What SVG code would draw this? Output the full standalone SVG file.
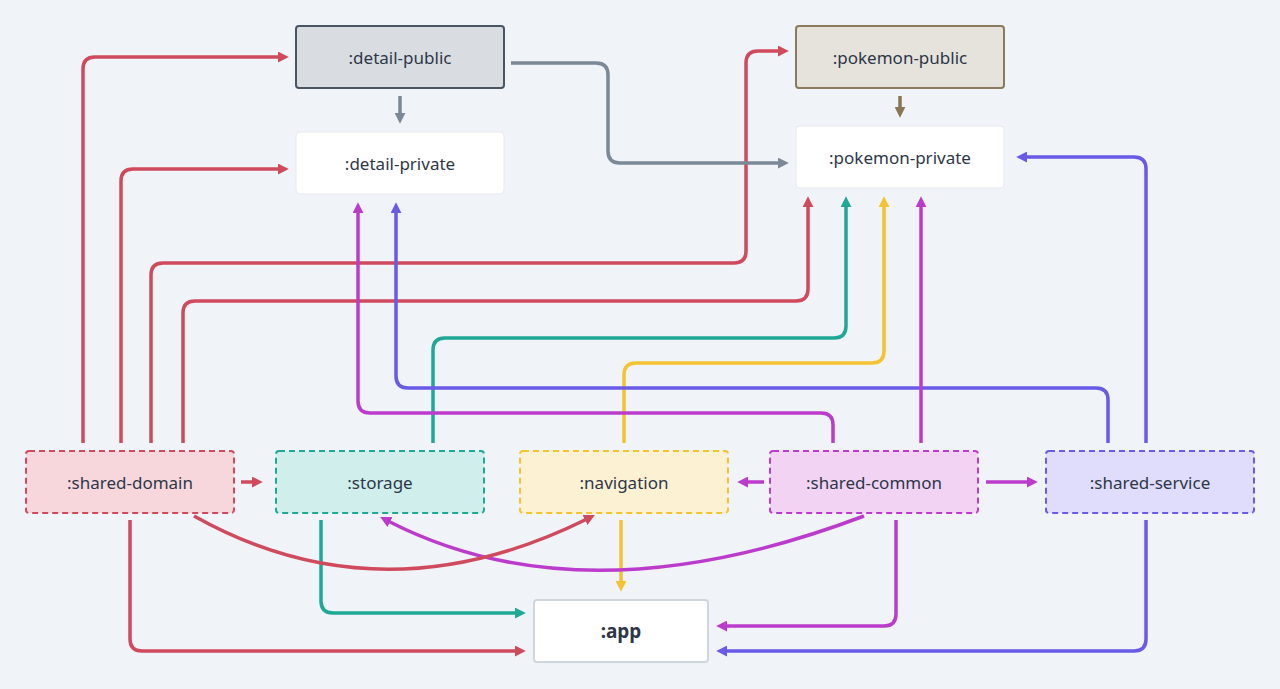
<svg xmlns="http://www.w3.org/2000/svg" width="1280" height="689" viewBox="0 0 1280 689">
<style>
.bg{fill:#f0f3f7}
.lbl{font-family:"Noto Sans","DejaVu Sans",sans-serif;font-size:17px;fill:#2d3748;text-anchor:middle;dominant-baseline:central}
.bold{font-weight:700;font-size:19px}
.c path{fill:none;stroke-width:3.5;stroke-linecap:butt;stroke-linejoin:round}
.red{stroke:#d04a5e}.slate{stroke:#7b8897}.brown{stroke:#8a7654}.teal{stroke:#1fa896}.yel{stroke:#f5c232}.mag{stroke:#bb3ccc}.ind{stroke:#6a5ae8}
.dash{stroke-width:2;stroke-dasharray:6 4}
</style>
<defs>
<marker id="aRed" viewBox="0 0 10 10" refX="2" refY="5" markerWidth="11" markerHeight="11" markerUnits="userSpaceOnUse" orient="auto"><path d="M0,0 L10,5 L0,10 Z" fill="#d04a5e"/></marker>
<marker id="aSlate" viewBox="0 0 10 10" refX="2" refY="5" markerWidth="11" markerHeight="11" markerUnits="userSpaceOnUse" orient="auto"><path d="M0,0 L10,5 L0,10 Z" fill="#7b8897"/></marker>
<marker id="aBrown" viewBox="0 0 10 10" refX="2" refY="5" markerWidth="11" markerHeight="11" markerUnits="userSpaceOnUse" orient="auto"><path d="M0,0 L10,5 L0,10 Z" fill="#8a7654"/></marker>
<marker id="aTeal" viewBox="0 0 10 10" refX="2" refY="5" markerWidth="11" markerHeight="11" markerUnits="userSpaceOnUse" orient="auto"><path d="M0,0 L10,5 L0,10 Z" fill="#1fa896"/></marker>
<marker id="aYel" viewBox="0 0 10 10" refX="2" refY="5" markerWidth="11" markerHeight="11" markerUnits="userSpaceOnUse" orient="auto"><path d="M0,0 L10,5 L0,10 Z" fill="#f5c232"/></marker>
<marker id="aMag" viewBox="0 0 10 10" refX="2" refY="5" markerWidth="11" markerHeight="11" markerUnits="userSpaceOnUse" orient="auto"><path d="M0,0 L10,5 L0,10 Z" fill="#bb3ccc"/></marker>
<marker id="aInd" viewBox="0 0 10 10" refX="2" refY="5" markerWidth="11" markerHeight="11" markerUnits="userSpaceOnUse" orient="auto"><path d="M0,0 L10,5 L0,10 Z" fill="#6a5ae8"/></marker>
</defs>
<rect class="bg" x="0" y="0" width="1280" height="689"/>

<g id="connectors" class="c">
<path class="red" marker-end="url(#aRed)" d="M83,443 V69 Q83,57 95,57 H280"/>
<path class="red" marker-end="url(#aRed)" d="M121,443 V181 Q121,169 133,169 H280"/>
<path class="red" marker-end="url(#aRed)" d="M151,443 V275 Q151,263 163,263 H734 Q746,263 746,251 V63 Q746,51 758,51 H780"/>
<path class="red" marker-end="url(#aRed)" d="M183,443 V313 Q183,301 195,301 H796 Q808,301 808,289 V205"/>
<path class="red" marker-end="url(#aRed)" d="M241,482 H254"/>
<path class="red" marker-end="url(#aRed)" d="M130,520 V639 Q130,651 142,651 H517"/>
<path class="slate" marker-end="url(#aSlate)" d="M400,96 V115"/>
<path class="slate" marker-end="url(#aSlate)" d="M511,63 H596 Q608,63 608,75 V151 Q608,163 620,163 H780"/>
<path class="brown" marker-end="url(#aBrown)" d="M900,96 V109"/>
<path class="teal" marker-end="url(#aTeal)" d="M433,443 V350 Q433,338 445,338 H834 Q846,338 846,326 V205"/>
<path class="teal" marker-end="url(#aTeal)" d="M321,520 V601 Q321,613 333,613 H517"/>
<path class="yel" marker-end="url(#aYel)" d="M624,443 V375 Q624,363 636,363 H872 Q884,363 884,351 V205"/>
<path class="yel" marker-end="url(#aYel)" d="M621,520 V583"/>
<path class="ind" marker-end="url(#aInd)" d="M1108,443 V400 Q1108,388 1096,388 H408 Q396,388 396,376 V211"/>
<path class="ind" marker-end="url(#aInd)" d="M1146,443 V169 Q1146,157 1134,157 H1025"/>
<path class="ind" marker-end="url(#aInd)" d="M1146,520 V639 Q1146,651 1134,651 H725"/>
<path class="mag" marker-end="url(#aMag)" d="M833,443 V425 Q833,413 821,413 H370 Q358,413 358,401 V211"/>
<path class="mag" marker-end="url(#aMag)" d="M921,443 V205"/>
<path class="mag" marker-end="url(#aMag)" d="M764,482 H746"/>
<path class="mag" marker-end="url(#aMag)" d="M986,482 H1029"/>
<path class="mag" marker-end="url(#aMag)" d="M896,520 V614 Q896,626 884,626 H725"/>
<path class="mag" marker-end="url(#aMag)" d="M864,516 Q584,622 388,521"/>
<path class="red" marker-end="url(#aRed)" d="M194,516 Q381,621 587,519"/>
</g>

<g id="detail-public"><rect x="296" y="26" width="208" height="62" rx="3" fill="#d9dde1" stroke="#4a5563" stroke-width="2"/><text class="lbl" x="400" y="57">:detail-public</text></g>
<g id="detail-private"><rect x="296" y="132" width="208" height="62" rx="4" fill="#ffffff" stroke="#e6eaef" stroke-width="1"/><text class="lbl" x="400" y="163">:detail-private</text></g>
<g id="pokemon-public"><rect x="796" y="26" width="208" height="62" rx="3" fill="#e6e2dc" stroke="#8a7a5e" stroke-width="2"/><text class="lbl" x="900" y="57">:pokemon-public</text></g>
<g id="pokemon-private"><rect x="796" y="126" width="208" height="62" rx="4" fill="#ffffff" stroke="#e6eaef" stroke-width="1"/><text class="lbl" x="900" y="157">:pokemon-private</text></g>
<g id="shared-domain"><rect class="dash" x="26" y="451" width="208" height="62" rx="3" fill="#f8d7dc" stroke="#d04a5e"/><text class="lbl" x="130" y="482">:shared-domain</text></g>
<g id="storage"><rect class="dash" x="276" y="451" width="208" height="62" rx="3" fill="#d0eeeb" stroke="#1fa896"/><text class="lbl" x="380" y="482">:storage</text></g>
<g id="navigation"><rect class="dash" x="520" y="451" width="208" height="62" rx="3" fill="#fdf1d3" stroke="#f5c232"/><text class="lbl" x="624" y="482">:navigation</text></g>
<g id="shared-common"><rect class="dash" x="770" y="451" width="208" height="62" rx="3" fill="#f2d3f4" stroke="#bb3ccc"/><text class="lbl" x="874" y="482">:shared-common</text></g>
<g id="shared-service"><rect class="dash" x="1046" y="451" width="208" height="62" rx="3" fill="#e0dcfc" stroke="#6a5ae8"/><text class="lbl" x="1150" y="482">:shared-service</text></g>
<g id="app"><rect x="534" y="600" width="174" height="62" rx="3" fill="#ffffff" stroke="#cfd6dd" stroke-width="2"/><text class="lbl bold" x="621" y="631">:app</text></g>
</svg>
